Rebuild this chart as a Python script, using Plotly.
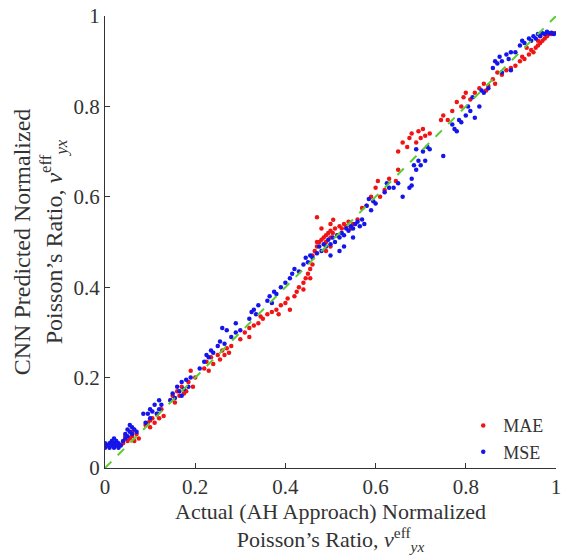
import plotly.graph_objects as go

# MAE series (red)
mae_x = [0.03,0.04,0.05,0.055,0.06,0.065,0.07,0.045,0.06,0.075,
         0.09,0.095,0.1,0.105,0.11,0.115,0.12,0.1,0.125,0.13,
         0.145,0.15,0.155,0.16,0.165,0.17,0.175,0.18,0.185,0.19,0.195,0.2,
         0.22,0.225,0.23,0.235,0.24,0.25,0.255,0.26,0.265,0.27,0.275,0.28,
         0.3,0.31,0.32,0.32,0.33,0.34,0.345,0.35,0.36,0.37,0.38,0.385,0.39,0.4,0.405,0.41,0.42,0.425,0.43,0.44,0.445,0.45,0.455,0.44,
         0.46,0.465,0.47,0.475,0.48,0.485,0.49,0.49,0.495,0.5,0.5,0.505,0.51,0.515,0.52,0.525,0.53,0.535,0.54,0.545,0.55,0.48,0.47,0.46,0.49,0.5,
         0.506,0.5,0.47,0.455,
         0.56,0.57,0.58,0.59,0.6,0.605,0.61,0.62,0.63,0.645,0.65,
         0.65,0.66,0.67,0.675,0.68,0.69,0.695,0.7,0.705,0.71,0.72,0.745,0.75,0.76,
         0.77,0.78,0.79,0.795,0.8,0.81,0.82,0.83,0.84,0.845,0.85,0.86,0.865,0.87,0.88,
         0.89,0.9,0.91,0.92,0.925,0.93,0.94,0.945,0.95,0.955,0.96,0.965,0.97,0.975,0.98,0.985,0.99,0.995,0.935,0.96]
mae_y = [0.05,0.055,0.06,0.065,0.07,0.06,0.075,0.07,0.08,0.065,
         0.095,0.1,0.09,0.11,0.1,0.12,0.11,0.105,0.13,0.115,
         0.15,0.16,0.145,0.17,0.16,0.18,0.165,0.17,0.19,0.215,0.18,0.2,
         0.22,0.235,0.215,0.245,0.23,0.25,0.24,0.26,0.25,0.265,0.255,0.27,
         0.285,0.3,0.29,0.31,0.315,0.32,0.335,0.33,0.34,0.345,0.35,0.34,0.36,0.365,0.375,0.35,0.38,0.39,0.4,0.41,0.42,0.43,0.44,0.395,
         0.47,0.48,0.49,0.5,0.505,0.51,0.5,0.515,0.52,0.51,0.525,0.52,0.53,0.515,0.535,0.53,0.54,0.535,0.545,0.53,0.54,0.53,0.555,0.45,0.48,0.49,
         0.549,0.54,0.5,0.42,
         0.55,0.575,0.58,0.6,0.62,0.635,0.6,0.615,0.64,0.635,0.66,
         0.7,0.72,0.71,0.73,0.74,0.72,0.745,0.73,0.75,0.735,0.74,0.77,0.78,0.77,
         0.79,0.81,0.8,0.82,0.83,0.815,0.83,0.84,0.85,0.835,0.845,0.86,0.85,0.875,0.87,
         0.88,0.885,0.89,0.9,0.91,0.905,0.915,0.925,0.92,0.93,0.935,0.94,0.945,0.95,0.955,0.96,0.96,0.962,0.93,0.945]

# MSE series (blue)
mse_x = [0.0,0.005,0.01,0.01,0.015,0.015,0.02,0.02,0.025,0.025,0.03,0.03,0.02,0.0,0.035,
         0.04,0.045,0.05,0.05,0.055,0.06,0.06,0.065,0.07,0.045,0.055,
         0.09,0.095,0.1,0.1,0.105,0.11,0.115,0.12,0.12,0.125,0.085,
         0.145,0.15,0.155,0.16,0.165,0.17,0.175,0.18,0.185,0.19,0.17,
         0.21,0.22,0.225,0.23,0.235,0.24,0.25,0.255,0.26,0.27,0.265,0.28,0.29,0.29,0.3,
         0.32,0.325,0.33,0.335,0.34,0.36,0.365,0.37,0.375,0.38,0.39,0.4,0.41,0.415,0.42,0.43,0.44,0.445,0.45,0.455,0.46,
         0.47,0.475,0.48,0.485,0.49,0.495,0.5,0.505,0.51,0.515,0.52,0.525,0.53,0.535,0.54,0.545,0.55,0.555,0.56,0.565,0.57,0.5,0.52,0.53,0.55,0.575,
         0.58,0.585,0.59,0.595,0.6,0.62,0.625,0.63,0.64,0.65,0.68,0.66,
         0.675,0.68,0.685,0.69,0.695,0.7,0.705,0.71,0.715,0.72,0.75,0.69,
         0.77,0.775,0.78,0.785,0.79,0.8,0.805,0.81,0.815,0.82,0.83,0.835,0.84,0.85,
         0.86,0.865,0.87,0.875,0.88,0.89,0.895,0.9,0.91,0.92,0.925,0.93,0.94,0.945,0.95,0.955,0.96,0.965,0.97,0.975,0.98,0.985,0.99,0.995,1.0,0.9,0.88]
mse_y = [0.045,0.05,0.045,0.055,0.05,0.06,0.045,0.055,0.05,0.06,0.045,0.055,0.065,0.055,0.05,
         0.06,0.075,0.07,0.085,0.08,0.075,0.09,0.085,0.08,0.065,0.095,
         0.1,0.12,0.11,0.13,0.125,0.14,0.12,0.13,0.15,0.14,0.12,
         0.15,0.165,0.155,0.18,0.17,0.19,0.175,0.195,0.18,0.2,0.16,
         0.22,0.235,0.25,0.245,0.26,0.255,0.27,0.28,0.31,0.305,0.275,0.29,0.32,0.3,0.305,
         0.33,0.345,0.35,0.34,0.36,0.37,0.38,0.365,0.39,0.385,0.4,0.41,0.42,0.43,0.44,0.435,0.45,0.465,0.455,0.47,0.465,
         0.475,0.49,0.48,0.495,0.49,0.505,0.495,0.51,0.5,0.515,0.51,0.52,0.515,0.53,0.525,0.535,0.53,0.54,0.545,0.535,0.55,0.47,0.48,0.49,0.51,0.54,
         0.58,0.595,0.57,0.59,0.585,0.61,0.63,0.62,0.62,0.63,0.625,0.6,
         0.62,0.64,0.67,0.66,0.68,0.67,0.7,0.68,0.71,0.705,0.69,0.705,
         0.76,0.75,0.745,0.77,0.765,0.78,0.8,0.79,0.82,0.775,0.8,0.835,0.83,0.84,
         0.885,0.9,0.895,0.91,0.9,0.915,0.905,0.92,0.92,0.935,0.945,0.94,0.95,0.945,0.955,0.95,0.96,0.955,0.962,0.96,0.965,0.962,0.963,0.96,0.962,0.88,0.875]

ref_x = [0, 1]
ref_y = [0, 1]

x_ticks = [0, 0.2, 0.4, 0.6, 0.8, 1]
x_tick_text = ["0", "0.2", "0.4", "0.6", "0.8", "1"]

FONT = "'Times New Roman', 'Liberation Serif', 'DejaVu Serif', serif"

fig = go.Figure()
fig.add_trace(go.Scatter(x=mae_x, y=mae_y, mode="markers", name="MAE",
                         marker=dict(color="rgb(240,20,20)", size=4.5, line=dict(width=0))))
fig.add_trace(go.Scatter(x=mse_x, y=mse_y, mode="markers", name="MSE",
                         marker=dict(color="rgb(20,20,235)", size=4.5, line=dict(width=0))))
fig.add_trace(go.Scatter(x=ref_x, y=ref_y, mode="lines", showlegend=False,
                         line=dict(color="rgb(90,205,50)", width=2, dash="dash")))

axis_common = dict(range=[0, 1], tickvals=x_ticks, ticktext=x_tick_text,
                   showgrid=False, zeroline=False, showline=True, linecolor="#333",
                   linewidth=1.2, ticks="inside", ticklen=5, tickcolor="#333",
                   automargin=False,
                   tickfont=dict(family=FONT, size=21, color="#333"))

fig.update_layout(
    width=562, height=555,
    margin=dict(l=105, r=6, t=16, b=87),
    paper_bgcolor="white", plot_bgcolor="white",
    font=dict(family=FONT, color="#333"),
    xaxis=dict(**axis_common,
               title=dict(text="Actual (AH Approach) Normalized<br>Poisson’s Ratio, <i>ν</i><sup>eff</sup><sub><i>yx</i></sub>",
                          font=dict(family=FONT, size=22, color="#333"), standoff=4)),
    yaxis=dict(**axis_common,
               title=dict(text="CNN Predicted Normalized<br>Poisson’s Ratio, <i>ν</i><sup>eff</sup><sub><i>yx</i></sub>",
                          font=dict(family=FONT, size=24, color="#333"), standoff=4)),
    legend=dict(x=0.985, y=-0.005, xanchor="right", yanchor="bottom",
                bgcolor="rgba(255,255,255,0)", font=dict(family=FONT, size=18, color="#333"),
                itemwidth=30, tracegroupgap=0),
)

fig.write_html("out.html")
